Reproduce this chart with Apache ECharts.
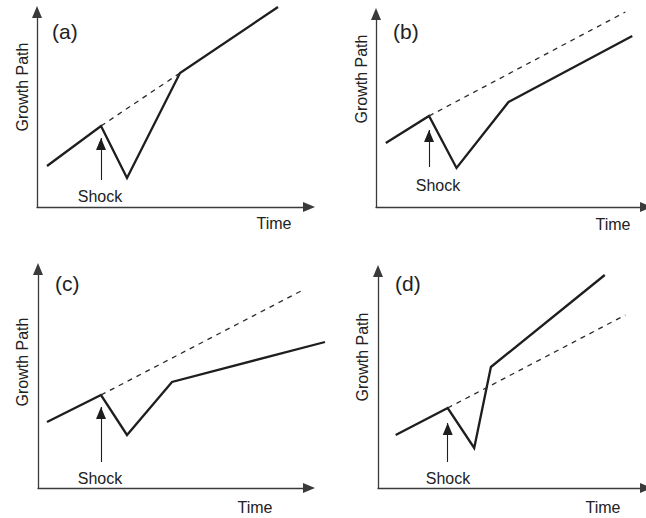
<!DOCTYPE html>
<html>
<head>
<meta charset="utf-8">
<script src="https://cdn.jsdelivr.net/npm/echarts@6/dist/echarts.min.js"></script>
<style>
  html, body { margin: 0; padding: 0; background: #fff; }
  #chart { width: 646px; height: 518px; }
</style>
</head>
<body>
<div id="chart"></div>
<script>
// ---- Data (units = time / growth, origin at axes corner) ----
const panelLetters = ['(a)', '(b)', '(c)', '(d)'];
const yAxisTitle = 'Growth Path';
const xAxisTitle = 'Time';
const shockText = 'Shock';

// actual growth path (solid)
const solidA = [[10, 41], [64, 81], [90, 29], [143, 134], [241, 200]];
const solidB = [[10, 64], [54, 91], [82, 39], [135, 105], [261, 171]];
const solidC = [[9, 66], [63, 93], [89, 53], [134, 106], [287, 146]];
const solidD = [[18, 53], [71, 80], [98, 40], [115, 121], [231, 213]];

// pre-shock trend continuation (dashed)
const dashA = [[64, 81], [143, 134]];
const dashB = [[54, 91], [254, 195]];
const dashC = [[63, 93], [265, 198]];
const dashD = [[71, 80], [252, 173]];

// shock arrow: [time, base level, tip level]
const shockA = [64, 27, 69];
const shockB = [54, 40, 77];
const shockC = [63, 26, 81];
const shockD = [71, 26, 65];

const solids = [solidA, solidB, solidC, solidD];
const dashes = [dashA, dashB, dashC, dashD];
const shocks = [shockA, shockB, shockC, shockD];

// ---- Layout (pixels) ----
const grids = [
  { left: 37,  top: 12,  width: 272, height: 195 },
  { left: 376, top: 14,  width: 275, height: 193 },
  { left: 38,  top: 269, width: 271, height: 219 },
  { left: 378, top: 271, width: 273, height: 217 }
];
const letterPos = [[52, 31], [393, 31], [55, 283], [395, 283]];
const yTitlePos = [[22, 87], [361, 79], [22, 362], [362, 357]];
const xTitlePos = [[274, 223], [613, 224], [255, 507], [603, 507]];
const shockPos  = [[100, 196], [438, 185], [100, 478], [448, 478]];

const FONT = '"Liberation Sans", Arial, Helvetica, sans-serif';
const INK = '#1e1e1e';
const AXIS = '#3a3a3a';

const chart = echarts.init(document.getElementById('chart'), null, { renderer: 'svg' });

const xAxes = [], yAxes = [], series = [], graphics = [];
grids.forEach((g, i) => {
  const axisCommon = {
    type: 'value', gridIndex: i, min: 0,
    axisLine: { show: true, onZero: false, symbol: ['none', 'triangle'], symbolSize: [10, 12],
                lineStyle: { color: AXIS, width: 1.3 } },
    axisTick: { show: false }, axisLabel: { show: false }, splitLine: { show: false }
  };
  xAxes.push(Object.assign({}, axisCommon, { max: g.width }));
  yAxes.push(Object.assign({}, axisCommon, { max: g.height }));

  const s = shocks[i];
  series.push({
    type: 'line', xAxisIndex: i, yAxisIndex: i, data: dashes[i],
    showSymbol: false, silent: true, clip: false, animation: false,
    lineStyle: { color: '#2a2a2a', width: 1.3, type: [5, 5] },
    markLine: {
      silent: true, animation: false, symbolSize: [10, 12],
      lineStyle: { color: INK, width: 1.1, type: 'solid' },
      label: { show: false },
      data: [[
        { coord: [s[0], s[1]], symbol: 'none' },
        { coord: [s[0], s[2]], symbol: 'triangle', symbolOffset: [0, '50%'] }
      ]]
    }
  });
  series.push({
    type: 'lines', coordinateSystem: 'cartesian2d', xAxisIndex: i, yAxisIndex: i,
    polyline: true, clip: false, silent: true, animation: false,
    data: [{ coords: solids[i] }],
    lineStyle: { color: INK, width: 2.3, opacity: 1, curveness: 0, join: 'miter' }
  });

  graphics.push({ type: 'text', x: letterPos[i][0], y: letterPos[i][1],
    style: { text: panelLetters[i], font: '21px ' + FONT, fill: '#222', align: 'left', verticalAlign: 'middle' } });
  graphics.push({ type: 'text', x: yTitlePos[i][0], y: yTitlePos[i][1], rotation: Math.PI / 2,
    style: { text: yAxisTitle, font: '16px ' + FONT, fill: '#222', align: 'center', verticalAlign: 'middle' } });
  graphics.push({ type: 'text', x: xTitlePos[i][0], y: xTitlePos[i][1],
    style: { text: xAxisTitle, font: '16px ' + FONT, fill: '#222', align: 'center', verticalAlign: 'middle' } });
  graphics.push({ type: 'text', x: shockPos[i][0], y: shockPos[i][1],
    style: { text: shockText, font: '16px ' + FONT, fill: '#222', align: 'center', verticalAlign: 'middle' } });
});

chart.setOption({
  backgroundColor: '#ffffff',
  animation: false,
  grid: grids,
  xAxis: xAxes,
  yAxis: yAxes,
  series: series,
  graphic: graphics
});
</script>
</body>
</html>
